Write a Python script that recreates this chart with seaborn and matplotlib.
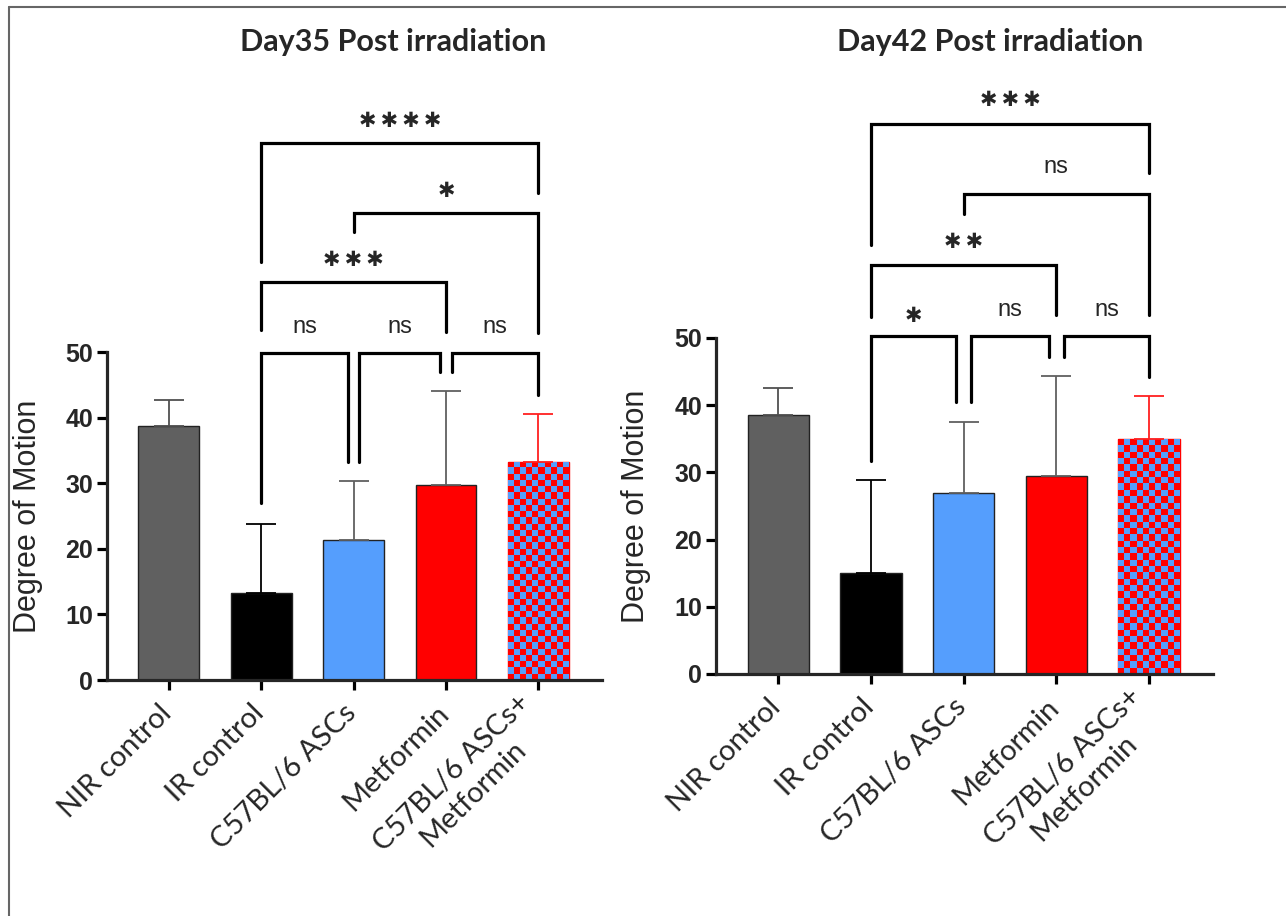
import numpy as np
import pandas as pd
import seaborn as sns
import matplotlib.pyplot as plt
import matplotlib.transforms as mtransforms
from matplotlib.colors import ListedColormap
from matplotlib.lines import Line2D

# Data: bar means and upper SD
groups = ["NIR control", "IR control", "C57BL/6 ASCs", "Metformin", "C57BL/6 ASCs+\nMetformin"]
day35_mean = [38.7, 13.2, 21.4, 29.7, 33.3]
day35_sd = [4.0, 10.6, 9.0, 14.3, 7.3]
day42_mean = [38.6, 15.0, 27.0, 29.5, 34.9]
day42_sd = [3.9, 13.9, 10.5, 14.8, 6.4]

# significance brackets: (x1, x2, y, left leg bottom, right leg bottom, label, label x, label y)
day35_sig = [
    (1, 4, 81.9, 63.7, 74.2, "****", 2.5, 85.2),
    (2, 4, 71.2, 68.3, 52.9, "*", 3.0, 74.6),
    (1, 3, 60.7, 53.4, 53.0, "***", 2.0, 64.0),
    (1, 1.94, 49.8, 27.0, 33.2, "ns", 1.47, 53.8),
    (2.06, 2.94, 49.8, 33.2, 47.0, "ns", 2.5, 53.8),
    (3.06, 4, 49.8, 47.0, 43.4, "ns", 3.53, 53.8),
]
day42_sig = [
    (1, 4, 81.9, 63.9, 74.5, "***", 2.5, 85.4),
    (2, 4, 71.4, 68.5, 53.4, "ns", 3.0, 75.4),
    (1, 3, 60.8, 53.1, 53.4, "**", 2.0, 64.3),
    (1, 1.92, 50.3, 31.7, 40.5, "*", 1.46, 53.2),
    (2.08, 2.92, 50.3, 40.5, 47.2, "ns", 2.5, 54.2),
    (3.08, 4, 50.3, 47.2, 44.2, "ns", 3.54, 54.2),
]

bar_colors = ["#606060", "#000000", "#559EFD", "#FF0000", "#FF0000"]
err_colors = ["#505050", "#000000", "#606060", "#606060", "#FF2020"]
check_colors = ["#FF0000", "#559EFD"]

sns.set_style("ticks")
plt.rcParams["font.family"] = ["Liberation Sans", "DejaVu Sans"]

fig = plt.figure(figsize=(12.86, 9.16), dpi=100)
ax1 = fig.add_axes([0.0832, 0.2576, 0.385, 0.630])
ax2 = fig.add_axes([0.5568, 0.2642, 0.3865, 0.6456])


def draw_panel(ax, means, sds, sig, title, title_x):
    df = pd.DataFrame({"group": groups, "value": means})
    sns.barplot(data=df, x="group", y="value", hue="group", palette=bar_colors,
                width=0.66, errorbar=None, legend=False, ax=ax, saturation=1,
                edgecolor="#222222", linewidth=1.0, zorder=2)
    ax.patches[4].set_edgecolor("#FF0000")
    for i, (m, s) in enumerate(zip(means, sds)):
        ax.errorbar(i, m, yerr=[[0], [s]], color=err_colors[i], elinewidth=1.3,
                    capsize=11, capthick=1.3, zorder=3)

    ax.set_xlim(-0.67, 4.69)
    ax.set_ylim(0, 88)

    # checkered fill for the combination bar
    p = ax.patches[4]
    fig.canvas.draw()
    bb = p.get_window_extent()
    ncol = max(int(round(bb.width / 6.3)), 2)
    nrow = max(int(round(bb.height / 6.3)), 2)
    checker = np.indices((nrow, ncol)).sum(axis=0) % 2
    im = ax.imshow(checker, cmap=ListedColormap(check_colors), interpolation="nearest",
                   extent=[p.get_x(), p.get_x() + p.get_width(), 0, p.get_height()],
                   aspect="auto", origin="lower", zorder=2.5)
    im.set_clip_path(p)
    ax.set_xlim(-0.67, 4.69)
    ax.set_ylim(0, 88)

    # brackets
    for x1, x2, y, yl, yr, lab, lx, ly in sig:
        ax.plot([x1, x1, x2, x2], [yl, y, y, yr], color="black", lw=2.3,
                solid_joinstyle="miter", clip_on=False, zorder=4)
        if lab == "ns":
            ax.text(lx, ly, lab, ha="center", va="center", fontsize=17, clip_on=False)
        else:
            ax.text(lx, ly, "\u2009".join("\u2731" * len(lab)), ha="center", va="center",
                    fontsize=15, family="DejaVu Sans", clip_on=False)

    sns.despine(ax=ax)
    ax.spines["left"].set_bounds(0, 50)
    ax.spines["left"].set_linewidth(2.3)
    ax.spines["bottom"].set_linewidth(2.3)
    ax.set_yticks([0, 10, 20, 30, 40, 50])
    ax.tick_params(axis="both", direction="out", length=7, width=2.3, color="black")
    ax.tick_params(axis="y", labelsize=18, pad=3)
    for t in ax.get_yticklabels():
        t.set_fontweight("bold")
    ax.set_xticks(range(len(groups)))
    ax.set_xticklabels(groups, rotation=45, ha="right", va="center", rotation_mode="anchor",
                       fontsize=21, multialignment="center", family=["Lato", "DejaVu Sans"])
    ax.tick_params(axis="x", pad=14)
    shift = mtransforms.ScaledTranslation(-1 / 72, 0, fig.dpi_scale_trans)
    for t in ax.get_xticklabels():
        t.set_transform(t.get_transform() + shift)
    ax.set_xlabel("")
    ax.set_ylabel("Degree of Motion", fontsize=22)
    ax.yaxis.set_label_coords(-0.13, 25 / 88)
    fig.text(title_x, 1 - 42 / 916, title, ha="center", va="center",
             fontsize=22, fontweight="bold", family=["Lato", "DejaVu Sans"])


draw_panel(ax1, day35_mean, day35_sd, day35_sig, "Day35 Post irradiation", 393 / 1286)
draw_panel(ax2, day42_mean, day42_sd, day42_sig, "Day42 Post irradiation", 990 / 1286)

# thin frame lines at top and left, as in the exported figure
fig.add_artist(Line2D([0.007, 1.0], [0.9924, 0.9924], transform=fig.transFigure,
                      color="#666666", lw=1.5))
fig.add_artist(Line2D([0.007, 0.007], [0.0, 0.9924], transform=fig.transFigure,
                      color="#666666", lw=1.5))

fig.savefig("out.png", dpi=100)
